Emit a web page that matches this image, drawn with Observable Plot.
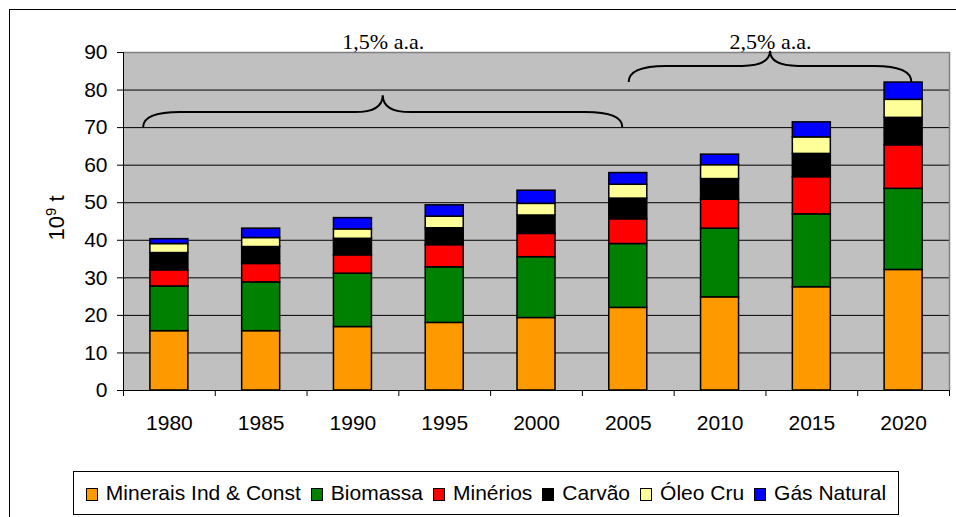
<!DOCTYPE html>
<html>
<head>
<meta charset="utf-8">
<script src="https://cdn.jsdelivr.net/npm/d3@7"></script>
<script src="https://cdn.jsdelivr.net/npm/@observablehq/plot@0.6"></script>
<style>
  html, body { margin: 0; padding: 0; background: #fff; }
  body { width: 956px; height: 517px; overflow: hidden; position: relative; font-family: "Liberation Sans", Arial, sans-serif; }
  #frame { position: absolute; left: 9px; top: 9px; width: 1000px; height: 600px; border-left: 1px solid #000; border-top: 1px solid #000; }
  #chart { position: absolute; left: 0; top: 0; }
  #ylabel { position: absolute; left: 57px; top: 218px; transform: translate(-50%, -50%) rotate(-90deg); font-size: 22px; white-space: nowrap; color: #000; }
  #ylabel sup { font-size: 0.68em; vertical-align: 0.55em; line-height: 0; }
  #legend { position: absolute; left: 73px; top: 471px; width: 824px; height: 42px; border: 1px solid #000; display: flex; justify-content: center; align-items: center; font-size: 21px; color: #000; }
  .item { display: flex; align-items: center; margin: 0 5px; white-space: nowrap; }
  .sw { width: 10px; height: 11px; border: 1px solid #000; margin-right: 8px; margin-top: 3px; }
</style>
</head>
<body>
<div id="frame"></div>
<div id="chart"></div>
<div id="ylabel">10<sup>9</sup> t</div>
<div id="legend"></div>
<script>
const years = ["1980", "1985", "1990", "1995", "2000", "2005", "2010", "2015", "2020"];
const seriesNames = ["Minerais Ind & Const", "Biomassa", "Minérios", "Carvão", "Óleo Cru", "Gás Natural"];
const seriesColors = ["#FF9900", "#008000", "#FF0000", "#000000", "#FFFF99", "#0000FF"];

const minerais = [15.8, 15.8, 16.9, 18.0, 19.3, 22.0, 24.8, 27.5, 32.1];
const biomassa = [11.9, 13.0, 14.2, 14.8, 16.2, 17.0, 18.3, 19.4, 21.6];
const minerios = [4.3, 4.9, 4.9, 5.9, 6.2, 6.6, 7.7, 9.9, 11.6];
const carvao   = [4.6, 4.5, 4.4, 4.5, 4.9, 5.5, 5.5, 6.2, 7.3];
const oleoCru  = [2.4, 2.4, 2.5, 3.1, 3.1, 3.7, 3.7, 4.4, 4.8];
const gasNat   = [1.3, 2.5, 3.0, 3.0, 3.5, 3.1, 2.8, 4.0, 4.6];

const yTicks = [0, 10, 20, 30, 40, 50, 60, 70, 80, 90];

// growth-rate braces (x in category-index units, y in 10^9 t)
const braceLabels = ["1,5% a.a.", "2,5% a.a."];
const braceStart = [0.22, 5.51];
const braceEnd = [5.44, 8.59];
const braceBase = [70, 82];
const braceLevel = [74, 86.3];
const braceTip = [78.5, 90.3];

const seriesValues = [minerais, biomassa, minerios, carvao, oleoCru, gasNat];
const rows = seriesNames.flatMap((s, k) => years.map((yr, i) => ({i, year: yr, series: s, value: seriesValues[k][i]})));
const braces = braceLabels.map((label, j) => ({
  label, x1: braceStart[j], x2: braceEnd[j], xm: (braceStart[j] + braceEnd[j]) / 2,
  base: braceBase[j], level: braceLevel[j], tip: braceTip[j]
}));

const barW = 0.414;

const chart = Plot.plot({
  width: 956,
  height: 462,
  marginLeft: 123,
  marginRight: 7,
  marginTop: 52,
  marginBottom: 72,
  style: {fontFamily: "'Liberation Sans', Arial, sans-serif", fontSize: "21px", background: "transparent", overflow: "visible", color: "#000"},
  x: {type: "linear", domain: [0, years.length]},
  y: {domain: [0, 90]},
  color: {domain: seriesNames, range: seriesColors},
  marks: [
    Plot.frame({fill: "#C0C0C0"}),
    Plot.ruleY(yTicks.filter(t => t > 0 && t < 90), {stroke: "#000", strokeWidth: 1}),
    Plot.ruleY([90], {stroke: "#808080", strokeWidth: 1.5}),
    Plot.ruleX([years.length], {stroke: "#808080", strokeWidth: 1.5}),
    Plot.rectY(rows, {
      x1: d => d.i + 0.5 - barW / 2,
      x2: d => d.i + 0.5 + barW / 2,
      y: "value",
      fill: "series",
      order: seriesNames,
      stroke: "#000",
      strokeWidth: 1.5
    }),
    Plot.ruleX([0], {stroke: "#000", strokeWidth: 1}),
    Plot.ruleY([0], {stroke: "#000", strokeWidth: 1}),
    Plot.axisY({ticks: yTicks, tickSize: 6, tickPadding: 10, label: null, stroke: "#000"}),
    Plot.axisX({ticks: d3.range(0, years.length + 1), tickSize: 6, tickFormat: () => "", label: null, stroke: "#000"}),
    Plot.axisX({ticks: years.map((_, i) => i + 0.5), tickSize: 0, tickPadding: 25, tickFormat: v => years[Math.floor(v)], label: null}),
    (index, {x, y}) => {
      const g = d3.create("svg:g").attr("fill", "none").attr("stroke", "#000").attr("stroke-width", 2);
      for (const b of braces) {
        const x1 = x(b.x1), x2 = x(b.x2), xm = (x1 + x2) / 2;
        const ye = y(b.base), yl = y(b.level), yt = y(b.tip);
        const r = 37, r2 = 28;
        g.append("path").attr("d",
          `M${x1},${ye} Q${x1},${yl} ${x1 + r},${yl} L${xm - r2},${yl} Q${xm},${yl} ${xm},${yt} ` +
          `Q${xm},${yl} ${xm + r2},${yl} L${x2 - r},${yl} Q${x2},${yl} ${x2},${ye}`);
      }
      return g.node();
    },
    Plot.text(braces, {x: "xm", y: () => 90, text: "label", fontFamily: "'Liberation Serif', 'Times New Roman', serif", fontSize: 22, lineAnchor: "bottom", dy: -4, fill: "#000"})
  ]
});
document.getElementById("chart").appendChild(chart);

const legend = d3.select("#legend");
seriesNames.forEach((s, k) => {
  const it = legend.append("div").attr("class", "item");
  it.append("div").attr("class", "sw").style("background", seriesColors[k]);
  it.append("span").text(s);
});
</script>
</body>
</html>
